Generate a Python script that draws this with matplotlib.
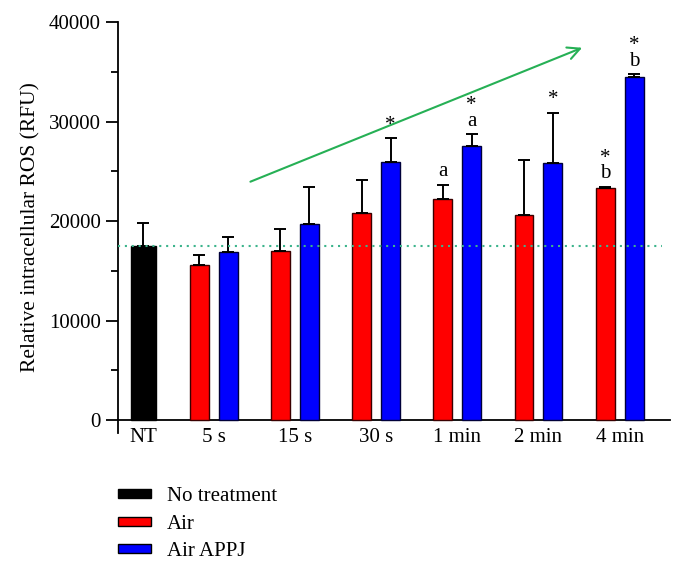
import numpy as np
import matplotlib
matplotlib.use('Agg')
import matplotlib.pyplot as plt
import matplotlib.patches as mpatches

plt.rcParams['font.family'] = ['Liberation Serif', 'DejaVu Serif']

# ── datos ─────────────────────────────────────────────────
groups     = ['5 s', '15 s', '30 s', '1 min', '2 min', '4 min']
nt_mean    = 17500
nt_sd      = 2300
air_mean   = [15600, 16950, 20770, 22200, 20630, 23350]
air_sd     = [950, 2280, 3380, 1440, 5500, 80]
appj_mean  = [16850, 19730, 25930, 27540, 25860, 34470]
appj_sd    = [1540, 3690, 2380, 1170, 5000, 300]
air_marks  = ['', '', '', 'a', '', '*\nb']
appj_marks = ['', '', '*', '*\na', '*', '*\nb']

RED   = '#ff0000'
BLUE  = '#0000ff'
GREEN = '#26b055'
TEAL  = '#3cb48c'
FS    = 15

fig = plt.figure(figsize=(6.74, 5.72), dpi=100)
ax = fig.add_axes([0.175, 0.243, 0.819, 0.7185])

gx  = np.arange(1, len(groups) + 1, dtype=float)
nx  = 1 - 0.87
off = 0.178
w   = 0.234

err_kw = dict(ecolor='black', elinewidth=1.4, capsize=4.5, capthick=1.4)

ax.bar(nx, nt_mean, width=0.31, color='black', edgecolor='black', lw=1,
       yerr=[[0], [nt_sd]], error_kw=err_kw, zorder=3)
ax.bar(gx - off, air_mean, width=w, color=RED, edgecolor='#3a0000', lw=1,
       yerr=[np.zeros(len(air_sd)), air_sd], error_kw=err_kw, zorder=3)
ax.bar(gx + off, appj_mean, width=w, color=BLUE, edgecolor='#00003a', lw=1,
       yerr=[np.zeros(len(appj_sd)), appj_sd], error_kw=err_kw, zorder=3)

# marcas de significancia
for x, m, s, t in zip(gx - off, air_mean, air_sd, air_marks):
    if t:
        ax.text(x, m + s + 350, t, ha='center', va='bottom', fontsize=FS,
                linespacing=0.75)
for x, m, s, t in zip(gx + off, appj_mean, appj_sd, appj_marks):
    if t:
        ax.text(x, m + s + 350, t, ha='center', va='bottom', fontsize=FS,
                linespacing=0.75)

# linea de referencia (NT) y flecha de tendencia
ax.plot([-0.18, 6.52], [nt_mean, nt_mean], ls=(0, (1, 2.3)), color=TEAL,
        lw=1.5, zorder=5)
ax.annotate('', xy=(5.57, 37520), xytext=(1.42, 23850),
            arrowprops=dict(arrowstyle='->', color=GREEN, lw=1.5,
                            mutation_scale=22))

ax.set_xlim(-0.18, 6.62)
ax.set_ylim(-1300, 40000)
ax.set_yticks([0, 10000, 20000, 30000, 40000])
ax.set_yticks(np.arange(5000, 40000, 10000), minor=True)
ax.set_xticks([nx] + list(gx))
ax.set_xticklabels(['NT'] + groups)
ax.tick_params(axis='x', length=0, labelsize=FS, pad=6)
ax.tick_params(axis='y', which='major', length=9, width=1.3, labelsize=FS)
ax.tick_params(axis='y', which='minor', length=5, width=1.3)

ax.spines['top'].set_visible(False)
ax.spines['right'].set_visible(False)
ax.spines['bottom'].set_position(('data', 0))
ax.spines['left'].set_linewidth(1.3)
ax.spines['bottom'].set_linewidth(1.3)
ax.set_ylabel('Relative intracellular ROS (RFU)', fontsize=FS + 0.5, labelpad=6)

handles = [
    mpatches.Patch(facecolor='black', edgecolor='black', label='No treatment'),
    mpatches.Patch(facecolor=RED, edgecolor='black', label='Air'),
    mpatches.Patch(facecolor=BLUE, edgecolor='black', label='Air APPJ'),
]
fig.legend(handles=handles, loc='upper left', bbox_to_anchor=(0.175, 0.148),
           frameon=False, fontsize=FS, handlelength=1.6, handleheight=0.3,
           handletextpad=0.75, labelspacing=0.4, borderpad=0, borderaxespad=0)

fig.savefig('out.png', dpi=100)
